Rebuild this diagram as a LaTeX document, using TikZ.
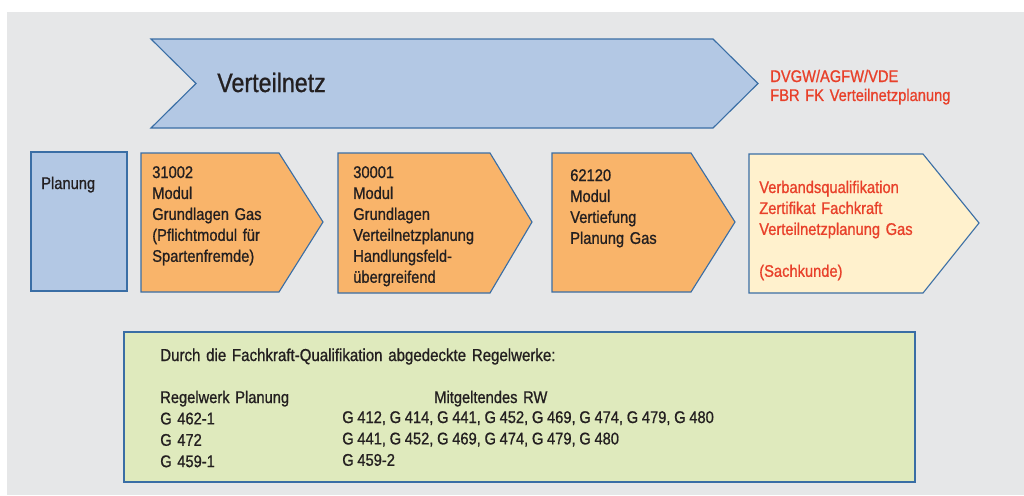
\documentclass[tikz,border=0pt]{standalone}
\usepackage{fontspec}
\setmainfont{Liberation Sans}[FakeStretch=0.87, FakeBold=0.9]
\usepackage{xcolor}
\definecolor{dvbg}{HTML}{E6E7E8}
\definecolor{dvblue}{HTML}{B3C8E4}
\definecolor{dvline}{HTML}{3A6EA5}
\definecolor{dvorange}{HTML}{F9B46A}
\definecolor{dvcream}{HTML}{FFF1CD}
\definecolor{dvgreen}{HTML}{DFEABD}
\definecolor{dvred}{HTML}{E8402A}
\definecolor{dvtext}{HTML}{231F20}

\begin{document}
\begin{tikzpicture}[x=0.025cm, y=-0.025cm,
    panel/.style={draw=dvline, line width=0.8pt, line join=miter},
    txt/.style={anchor=base west, inner sep=0pt, text width=7cm, align=left,
                text=dvtext, font=\fontsize{12}{14.9}\selectfont},
    alert/.style={text=dvred}]
    \useasboundingbox (0,0) rectangle (1024,495);
    \fill[dvbg] (7,12) rectangle (1024,495);

    \draw[panel, fill=dvblue] (151,39) -- (713,39) -- (758,83.5) -- (713,128)
      -- (151,128) -- (196,83.5) -- cycle;
    \node[txt, font=\fontsize{19}{22}\selectfont] (netz) at (217,92) {Verteilnetz};
    \node[txt, alert, font=\fontsize{12}{13.5}\selectfont] (fbr) at (770,82)
      {DVGW/AGFW/VDE\\ FBR FK Verteilnetzplanung};

    \draw[panel, fill=dvblue] (31,152) rectangle (127,291);
    \draw[panel, fill=dvorange] (141,153) -- (279,153) -- (323,222) -- (279,292)
      -- (141,292) -- cycle;
    \draw[panel, fill=dvorange] (338,153) -- (490,153) -- (532,222) -- (490,293)
      -- (338,293) -- cycle;
    \draw[panel, fill=dvorange] (552,153) -- (691,153) -- (735,222) -- (691,292)
      -- (552,292) -- cycle;
    \draw[panel, fill=dvcream] (749,154) -- (923,154) -- (979,223) -- (923,293)
      -- (749,293) -- cycle;

    \node[txt] (plan) at (41,189) {Planung};
    \node[txt] (m31002) at (152,178)
      {31002\\ Modul\\ Grundlagen Gas\\ (Pflichtmodul für\\ Spartenfremde)};
    \node[txt] (m30001) at (353,178)
      {30001\\ Modul\\ Grundlagen\\ Verteilnetzplanung\\ Handlungsfeld-\\ übergreifend};
    \node[txt] (m62120) at (570,181)
      {62120\\ Modul\\ Vertiefung\\ Planung Gas};
    \node[txt, alert] (zert) at (759,193)
      {Verbandsqualifikation\\ Zertifikat Fachkraft\\ Verteilnetzplanung Gas\\[14.9pt] (Sachkunde)};

    \draw[panel, fill=dvgreen] (124,332) rectangle (915,482);
    \node[txt, text width=12cm, font=\fontsize{12.3}{15}\selectfont] (rwtitle) at (160,361)
      {Durch die Fachkraft-Qualifikation abgedeckte Regelwerke:};
    \node[txt, font=\fontsize{12}{15.2}\selectfont] (rwplan) at (160,403)
      {Regelwerk Planung\\ G 462-1\\ G 472\\ G 459-1};
    \node[txt] (rwhead) at (434,403) {Mitgeltendes RW};
    \node[txt, text width=12cm, font=\fontsize{12}{15.2}\selectfont] (rwlist) at (342,423)
      {\spaceskip=0.22em\relax
       G 412, G 414, G 441, G 452, G 469, G 474, G 479, G 480\\
       G 441, G 452, G 469, G 474, G 479, G 480\\ G 459-2};
  \end{tikzpicture}
\end{document}
